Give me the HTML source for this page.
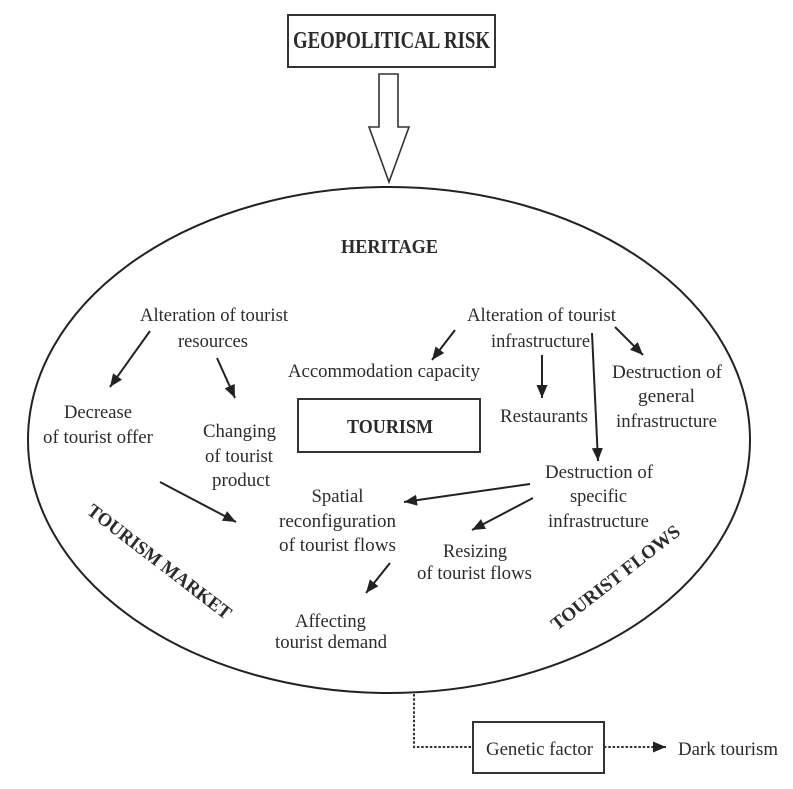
<!DOCTYPE html>
<html>
<head>
<meta charset="utf-8">
<style>
  html, body { margin:0; padding:0; background:#fff; }
  svg { display:block; }
  text { font-family: "Liberation Serif", "DejaVu Serif", serif; fill:#2b2b2b; }
  .b { font-weight:bold; }
</style>
</head>
<body>
<svg width="793" height="789" viewBox="0 0 793 789" xmlns="http://www.w3.org/2000/svg">
  <defs>
    <marker id="ah" markerUnits="userSpaceOnUse" markerWidth="14" markerHeight="12" refX="13" refY="5.5" orient="auto">
      <path d="M0,0 L13,5.5 L0,11 Z" fill="#222"/>
    </marker>
  </defs>

  <!-- Geopolitical risk box -->
  <rect x="288" y="15" width="207" height="52" fill="none" stroke="#333" stroke-width="2"/>
  <text class="b" x="391.5" y="48" font-size="24" text-anchor="middle" textLength="197" lengthAdjust="spacingAndGlyphs">GEOPOLITICAL RISK</text>

  <!-- hollow arrow -->
  <polygon points="379,74 398,74 398,127 409,127 389,182 369,127 379,127" fill="#fff" stroke="#333" stroke-width="1.6" stroke-linejoin="miter"/>

  <!-- big ellipse -->
  <ellipse cx="389" cy="440" rx="361" ry="253" fill="none" stroke="#222" stroke-width="2"/>

  <text class="b" x="389.5" y="253" font-size="20" text-anchor="middle" textLength="97" lengthAdjust="spacingAndGlyphs">HERITAGE</text>

  <!-- left cluster -->
  <text x="214" y="321" font-size="19" text-anchor="middle" textLength="148" lengthAdjust="spacingAndGlyphs">Alteration of tourist</text>
  <text x="213" y="347" font-size="19" text-anchor="middle" textLength="70" lengthAdjust="spacingAndGlyphs">resources</text>

  <text x="98" y="418" font-size="19" text-anchor="middle" textLength="68" lengthAdjust="spacingAndGlyphs">Decrease</text>
  <text x="98" y="443" font-size="19" text-anchor="middle" textLength="110" lengthAdjust="spacingAndGlyphs">of tourist offer</text>

  <text x="239.5" y="437" font-size="19" text-anchor="middle" textLength="73" lengthAdjust="spacingAndGlyphs">Changing</text>
  <text x="239" y="462" font-size="19" text-anchor="middle" textLength="68" lengthAdjust="spacingAndGlyphs">of tourist</text>
  <text x="241" y="486" font-size="19" text-anchor="middle" textLength="58" lengthAdjust="spacingAndGlyphs">product</text>

  <text x="384" y="377" font-size="19" text-anchor="middle" textLength="192" lengthAdjust="spacingAndGlyphs">Accommodation capacity</text>

  <!-- tourism box -->
  <rect x="298" y="399" width="182" height="53" fill="none" stroke="#333" stroke-width="2"/>
  <text class="b" x="390" y="433" font-size="20" text-anchor="middle" textLength="86" lengthAdjust="spacingAndGlyphs">TOURISM</text>

  <!-- right cluster -->
  <text x="541.5" y="321" font-size="19" text-anchor="middle" textLength="149" lengthAdjust="spacingAndGlyphs">Alteration of tourist</text>
  <text x="540.5" y="347" font-size="19" text-anchor="middle" textLength="99" lengthAdjust="spacingAndGlyphs">infrastructure</text>

  <text x="544" y="422" font-size="19" text-anchor="middle" textLength="88" lengthAdjust="spacingAndGlyphs">Restaurants</text>

  <text x="667" y="378" font-size="19" text-anchor="middle" textLength="110" lengthAdjust="spacingAndGlyphs">Destruction of</text>
  <text x="666.5" y="402" font-size="19" text-anchor="middle" textLength="57" lengthAdjust="spacingAndGlyphs">general</text>
  <text x="666.5" y="427" font-size="19" text-anchor="middle" textLength="101" lengthAdjust="spacingAndGlyphs">infrastructure</text>

  <text x="599" y="478" font-size="19" text-anchor="middle" textLength="108" lengthAdjust="spacingAndGlyphs">Destruction of</text>
  <text x="598.5" y="502" font-size="19" text-anchor="middle" textLength="57" lengthAdjust="spacingAndGlyphs">specific</text>
  <text x="598.5" y="527" font-size="19" text-anchor="middle" textLength="101" lengthAdjust="spacingAndGlyphs">infrastructure</text>

  <!-- middle lower -->
  <text x="337.5" y="502" font-size="19" text-anchor="middle" textLength="52" lengthAdjust="spacingAndGlyphs">Spatial</text>
  <text x="337.5" y="527" font-size="19" text-anchor="middle" textLength="117" lengthAdjust="spacingAndGlyphs">reconfiguration</text>
  <text x="337.5" y="551" font-size="19" text-anchor="middle" textLength="117" lengthAdjust="spacingAndGlyphs">of tourist flows</text>

  <text x="475" y="557" font-size="19" text-anchor="middle" textLength="64" lengthAdjust="spacingAndGlyphs">Resizing</text>
  <text x="474.5" y="579" font-size="19" text-anchor="middle" textLength="115" lengthAdjust="spacingAndGlyphs">of tourist flows</text>

  <text x="330.5" y="627" font-size="19" text-anchor="middle" textLength="71" lengthAdjust="spacingAndGlyphs">Affecting</text>
  <text x="331" y="648" font-size="19" text-anchor="middle" textLength="112" lengthAdjust="spacingAndGlyphs">tourist demand</text>

  <!-- rotated labels -->
  <g transform="translate(160,561) rotate(37.5)">
    <text class="b" x="0" y="7" font-size="19" text-anchor="middle" textLength="176" lengthAdjust="spacingAndGlyphs">TOURISM MARKET</text>
  </g>
  <g transform="translate(615,577) rotate(-38)">
    <text class="b" x="0" y="7" font-size="19" text-anchor="middle" textLength="158" lengthAdjust="spacingAndGlyphs">TOURIST FLOWS</text>
  </g>

  <!-- arrows -->
  <g stroke="#222" stroke-width="2" fill="none">
    <line x1="150" y1="331" x2="110" y2="387" marker-end="url(#ah)"/>
    <line x1="217" y1="358" x2="235" y2="398" marker-end="url(#ah)"/>
    <line x1="455" y1="330" x2="432" y2="360" marker-end="url(#ah)"/>
    <line x1="542" y1="355" x2="542" y2="398" marker-end="url(#ah)"/>
    <line x1="592" y1="333" x2="598" y2="461" marker-end="url(#ah)"/>
    <line x1="615" y1="327" x2="643" y2="355" marker-end="url(#ah)"/>
    <line x1="160" y1="482" x2="236" y2="522" marker-end="url(#ah)"/>
    <line x1="530" y1="484" x2="404" y2="502" marker-end="url(#ah)"/>
    <line x1="533" y1="498" x2="472" y2="530" marker-end="url(#ah)"/>
    <line x1="390" y1="563" x2="366" y2="593" marker-end="url(#ah)"/>
  </g>

  <!-- bottom dotted connector -->
  <g stroke="#333" stroke-width="2" fill="none" stroke-dasharray="2.5 1.8">
    <polyline points="414,694 414,747 473,747"/>
    <line x1="604" y1="747" x2="666" y2="747" marker-end="url(#ah)"/>
  </g>
  <rect x="473" y="722" width="131" height="51" fill="none" stroke="#333" stroke-width="2"/>
  <text x="539.5" y="755" font-size="19" text-anchor="middle" textLength="107" lengthAdjust="spacingAndGlyphs">Genetic factor</text>
  <text x="678" y="755" font-size="19" textLength="100" lengthAdjust="spacingAndGlyphs">Dark tourism</text>
</svg>
</body>
</html>
